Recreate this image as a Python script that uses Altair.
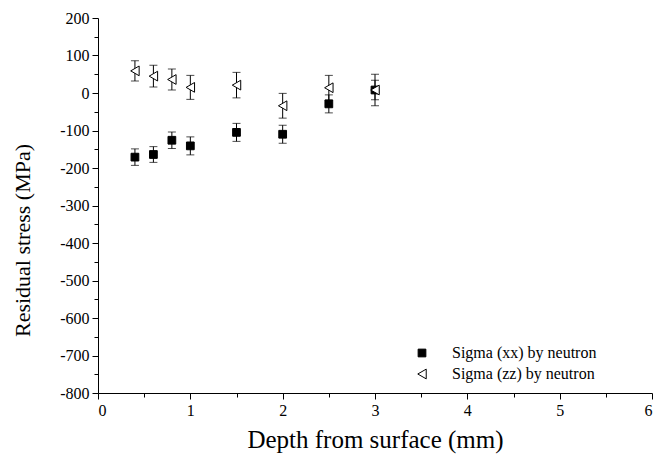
import altair as alt
import pandas as pd

depth = [0.4, 0.6, 0.8, 1.0, 1.5, 2.0, 2.5, 3.0]
sigma_xx = [-171, -164, -126, -141, -105, -110, -29, 8]
sigma_xx_err = [22, 21, 22, 24, 24, 24, 24, 26]
sigma_zz = [59, 45, 36, 15, 21, -34, 14, 8]
sigma_zz_err = [27, 29, 28, 32, 34, 33, 33, 42]
series_names = ["Sigma (xx) by neutron", "Sigma (zz) by neutron"]
y_ticks = list(range(-800, 201, 50))
x_ticks = [0, 0.5, 1, 1.5, 2, 2.5, 3, 3.5, 4, 4.5, 5, 5.5, 6]

rows = []
for name, vals, errs in [(series_names[0], sigma_xx, sigma_xx_err),
                         (series_names[1], sigma_zz, sigma_zz_err)]:
    for d, v, e in zip(depth, vals, errs):
        rows.append({"depth": d, "stress": v, "lo": v - e, "hi": v + e, "series": name})
df = pd.DataFrame(rows)
df["order"] = df["series"].map({series_names[0]: 0, series_names[1]: 1})

FONT = "Liberation Serif"

x_axis = alt.Axis(values=x_ticks, title="Depth from surface (mm)",
                  labelExpr="datum.value % 1 === 0 ? '' + datum.value : ''",
                  labelOverlap=False,
                  tickSize={"condition": {"test": "datum.value % 1 === 0", "value": 6}, "value": 4},
                  titleFontSize=25, titleFont=FONT, titleFontWeight="normal",
                  titlePadding=9, labelPadding=3)
y_axis = alt.Axis(values=y_ticks, title="Residual stress (MPa)",
                  labelExpr="datum.value % 100 === 0 ? '' + datum.value : ''",
                  labelOverlap=False,
                  tickSize={"condition": {"test": "datum.value % 100 === 0", "value": 6}, "value": 4},
                  titleFontSize=22, titleFont=FONT, titleFontWeight="normal",
                  titleY=222, titleX=-64, labelPadding=3)
x_scale = alt.Scale(domain=[0, 6], nice=False)
y_scale = alt.Scale(domain=[-800, 200], nice=False)


def X():
    return alt.X("depth:Q", scale=x_scale, axis=x_axis)


def Y(field):
    return alt.Y(field, scale=y_scale, axis=y_axis)


base = alt.Chart(df)

bars = base.mark_rule(color="black", strokeWidth=1).encode(
    x=X(), y=Y("lo:Q"), y2="hi:Q")
cap_lo = base.mark_tick(orient="horizontal", size=8, thickness=1, color="black").encode(
    x=X(), y=Y("lo:Q"))
cap_hi = base.mark_tick(orient="horizontal", size=8, thickness=1, color="black").encode(
    x=X(), y=Y("hi:Q"))

leg = alt.Legend(title=None, orient="none", legendX=316, legendY=327,
                 labelFont=FONT, labelFontSize=16, labelColor="black",
                 labelOffset=22, rowPadding=5, padding=0,
                 symbolStrokeWidth=1)

points = base.mark_point(strokeWidth=1, opacity=1, fillOpacity=1).encode(
    x=X(), y=Y("stress:Q"),
    shape=alt.Shape("series:N", scale=alt.Scale(domain=series_names, range=["square", "triangle-left"]), legend=leg),
    fill=alt.Fill("series:N", scale=alt.Scale(domain=series_names, range=["black", "white"]), legend=leg),
    stroke=alt.Stroke("series:N", scale=alt.Scale(domain=series_names, range=["black", "black"]), legend=leg),
    size=alt.Size("series:N", scale=alt.Scale(domain=series_names, range=[60, 95]), legend=leg),
    order=alt.Order("order:Q"))

chart = alt.layer(bars, cap_lo, cap_hi, points).properties(
    width=554, height=375,
    autosize=alt.AutoSizeParams(type="none"),
    padding={"left": 98, "top": 18, "right": 4, "bottom": 69},
    background="white",
).configure_view(stroke=None).configure_axis(
    grid=False, domainColor="black", domainWidth=1, tickColor="black", tickWidth=1,
    labelFont=FONT, labelFontSize=16, labelColor="black", titleColor="black",
    labelOverlap=False,
)

chart.save("out.html", embed_options={"renderer": "svg", "actions": False})
